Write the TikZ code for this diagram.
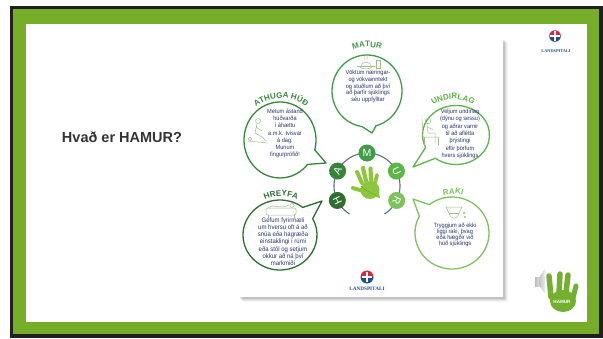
\documentclass[tikz,border=0pt]{standalone}
\usepackage{fontspec}
\setmainfont{Liberation Sans}
\newfontfamily\postfont[FakeStretch=0.92]{Liberation Sans}
\newfontfamily\logofont{Liberation Serif}
\usetikzlibrary{decorations.text,calc}

\definecolor{framegreen}{HTML}{76AE2A}
\definecolor{framedark}{HTML}{231F20}
\definecolor{titlegray}{HTML}{333333}
\definecolor{inkblue}{HTML}{27356B}
\definecolor{ringblue}{HTML}{5C6C8C}
\definecolor{gM}{HTML}{3F9C47}
\definecolor{gA}{HTML}{36853A}
\definecolor{gU}{HTML}{5DB548}
\definecolor{gH}{HTML}{2E6E30}
\definecolor{gR}{HTML}{7DC35C}
\definecolor{handgreen}{HTML}{8CC63F}
\definecolor{handdark}{HTML}{6FA832}
\definecolor{badgegreen}{HTML}{74B030}
\definecolor{iconline}{HTML}{9DBB8C}
\definecolor{lsred}{HTML}{D7263D}
\definecolor{lsblue}{HTML}{1D4F91}

% speech bubble: colour, centre x, centre y, x radius, y radius,
% tail start angle, tail end angle, tail tip
\newcommand\speechbubble[8]{%
  \draw[bubbleline, draw=#1] (#2,#3) ++(#7:#4 and #5)
    arc[start angle=#7, end angle={#6+360}, x radius=#4, y radius=#5]
    -- (#8) -- cycle;}

% arched heading above a bubble: colour, centre, radius, start, end, text
\newcommand\archead[6]{%
  \path[decorate, decoration={text along path, text align=center,
    text={|\fontsize{8}{8}\selectfont\bfseries\color{#1}|#6}}]
    (#2) ++(#4:#3) arc[start angle=#4, end angle=#5, radius=#3];}

% hospital emblem: centre x, centre y, radius
\newcommand\lshemblem[3]{%
  \fill[lsred] (#1,#2) ++(0:#3) arc[start angle=0, end angle=180, radius=#3] -- cycle;
  \fill[lsblue] (#1,#2) ++(180:#3) arc[start angle=180, end angle=360, radius=#3] -- cycle;
  \fill[white] ({#1-0.22*#3},{#2-0.78*#3}) rectangle ({#1+0.22*#3},{#2+0.78*#3});
  \fill[white] ({#1-0.78*#3},{#2-0.22*#3}) rectangle ({#1+0.78*#3},{#2+0.22*#3});}

\begin{document}
\begin{tikzpicture}[x=1pt, y=1pt, line join=round,
  bubbleline/.style={line width=1.3pt, fill=white},
  bodytext/.style={font=\postfont\fontsize{6.1}{7.2}\selectfont, text=inkblue,
    align=center, inner sep=0pt},
  lettercircle/.style={circle, minimum size=17pt, inner sep=0pt, text=white,
    font=\fontsize{10.5}{10.5}\selectfont},
  icon/.style={draw=iconline, line width=0.5pt, line cap=round},
  finger/.style={line cap=round, draw=handgreen},
]
\useasboundingbox (0,0) rectangle (603,-338);
\fill[white] (0,0) rectangle (603,-338);

% slide frame
\fill[framedark] (10,-6) rectangle (603,-338);
\fill[framegreen] (13,-9) rectangle (599,-334);
\fill[white] (26,-24) rectangle (587,-322);

% slide heading
\node[font=\fontsize{14.5}{16}\selectfont\bfseries, text=titlegray, inner sep=0pt]
  (heading) at (122,-137) {Hvað er HAMUR?};

% top right emblem
\lshemblem{555}{-36}{5.8}
\node[font=\logofont\bfseries\fontsize{4.3}{5}\selectfont, text=lsblue, inner sep=0pt]
  (toplogo) at (556,-51) {LANDSPITALI};

% poster sheet with soft drop shadow
\foreach \s/\o in {5/0.04,4/0.05,3/0.07,2/0.09}
  \fill[black, opacity=\o] ({238+\s},{-38-\s}) rectangle ({503+\s},{-297-\s});
\fill[white] (238,-38) rectangle (503,-297);

% speech bubbles
\speechbubble{gM}{367}{-91}{35}{36}{262}{285}{372,-133}
\speechbubble{gA}{280}{-140}{36}{38}{-40}{-15}{326,-163}
\speechbubble{gU}{456}{-135}{33.5}{29.5}{205}{232}{413,-167}
\speechbubble{gH}{280}{-235}{37}{35}{28}{52}{322,-201}
\speechbubble{gR}{452}{-233}{37}{36}{128}{152}{413,-199}

% headings along arcs
\archead{gM}{367,-91}{44}{125}{55}{MATUR}
\archead{gA}{281,-140}{42}{150}{30}{ATHUGA HÚÐ}
\archead{gU}{453,-135}{36}{145}{35}{UNDIRLAG}
\archead{gH}{281,-235}{39}{125}{55}{HREYFA}
\archead{gR}{453,-233}{39}{115}{65}{RAKI}

% bubble texts
\node[bodytext, font=\postfont\fontsize{6.1}{6.75}\selectfont] (mtxt) at (368,-86.5)
  {Vöktum næringar-\\og vökvainntekt\\og stuðlum að því\\að þarfir sjúklings\\séu uppfylltar};
\node[bodytext] (atxt) at (285,-133.5)
  {Metum ástand\\húðvarða\\í áhættu\\a.m.k. tvisvar\\á dag.\\Munum\\fingurprófið!};
\node[bodytext, font=\postfont\fontsize{6.1}{7.3}\selectfont] (utxt) at (460,-134)
  {Veljum undirlag\\(dýnu og sessu)\\og aðrar varnir\\til að aflétta\\þrýstingi\\eftir þörfum\\hvers sjúklings};
\node[bodytext, font=\postfont\fontsize{6.5}{7.2}\selectfont] (htxt) at (283,-241.5)
  {Gefum fyrirmæli\\um hversu oft á að\\snúa eða hagræða\\einstaklingi í rúmi\\eða stól og setjum\\okkur að ná því\\markmiði};
\node[bodytext, font=\postfont\fontsize{6.1}{5.9}\selectfont] (rtxt) at (455,-235)
  {Tryggjum að ekki\\liggi raki, þvag\\eða hægðir við\\húð sjúklings};

% line icons inside the bubbles
% meal tray with a glass
\draw[icon] (357,-66) -- (375,-66);
\draw[icon] (359,-66) .. controls (361,-70) and (371,-70) .. (373,-66);
\draw[icon] (361,-66) .. controls (361,-61) and (371,-61) .. (371,-66);
\draw[icon] (364,-56) .. controls (365,-57.5) and (363,-58.5) .. (364,-60);
\draw[icon] (367,-56) .. controls (368,-57.5) and (366,-58.5) .. (367,-60);
\draw[icon] (376,-60) rectangle (380,-68);
% carer checking skin
\draw[icon] (258,-121) circle[radius=2.5];
\draw[icon] (257,-124) -- (255,-133) -- (262,-137) -- (266,-141);
\draw[icon] (256,-127) -- (262,-131);
\draw[icon] (248,-141) -- (268,-143);
\draw[icon] (250,-139) circle[radius=1.8];
% person seated
\draw[icon] (428,-121) circle[radius=2.8];
\draw[icon] (427,-124) -- (428,-133) -- (435,-133) -- (435,-143);
\draw[icon] (428,-127) -- (433,-130);
\draw[icon] (422,-119) -- (423,-137) -- (439,-137);
\draw[icon] (424,-137) -- (424,-145);
\draw[icon] (438,-137) -- (438,-145);
% bed with resting person
\draw[icon, rounded corners=2] (266,-208) rectangle (296,-215);
\draw[icon] (292,-205.5) circle[radius=2];
\draw[icon] (268,-208) .. controls (274,-203) and (280,-210) .. (289,-205);
\draw[icon] (268,-215) -- (268,-218);
\draw[icon] (294,-215) -- (294,-218);
% diaper
\draw[icon] (446,-207) -- (462,-207) -- (459,-213) .. controls (457,-220) and (451,-220) .. (449,-213) -- cycle;
\draw[icon] (449,-213) -- (459,-213);
\draw[icon] (464,-213) circle[radius=0.9];
\draw[icon] (465,-217) circle[radius=0.7];

% HAMUR ring
\draw[ringblue, line width=1.1pt] (367,-186) ++(-58:33) arc[start angle=-58, end angle=238, radius=33];
\node[lettercircle, fill=gM] (cM) at (367,-153) {M};
\node[lettercircle, fill=gA, rotate=63] (cA) at ($(367,-186)+(153:33)$) {A};
\node[lettercircle, fill=gU, rotate=-63] (cU) at ($(367,-186)+(27:33)$) {U};
\node[lettercircle, fill=gH, rotate=116] (cH) at ($(367,-186)+(206:33)$) {H};
\node[lettercircle, fill=gR, rotate=-116] (cR) at ($(367,-186)+(334:33)$) {R};

% open hand
\fill[handgreen] (370,-190) ellipse[x radius=9.5, y radius=9];
\fill[handgreen] (372,-196) -- (380,-198) -- (378,-190) -- cycle;
\draw[finger, line width=4pt] (362,-183) -- (357,-172);
\draw[finger, line width=4.2pt] (366,-181) -- (363,-168);
\draw[finger, line width=4.2pt] (371,-181) -- (370.5,-168.5);
\draw[finger, line width=3.8pt] (375,-183) -- (377,-175);
\draw[finger, line width=4pt] (363,-191) -- (353,-188);
\draw[handdark, line width=0.6pt, line cap=round] (361,-186) .. controls (365,-190) and (370,-193) .. (376,-195);

% emblem at the foot of the poster
\lshemblem{367}{-277}{6.5}
\node[font=\logofont\bfseries\fontsize{5.2}{6}\selectfont, text=lsblue, inner sep=0pt]
  (posterlogo) at (367,-289) {LANDSPITALI};

% speaker and HAMUR badge, bottom right
\fill[badgegreen] (563,-301) ellipse[x radius=13, y radius=11];
\draw[badgegreen, line width=5.5pt, line cap=round] (551,-297) -- (549,-276);
\draw[badgegreen, line width=5.5pt, line cap=round] (559,-293) -- (560,-274);
\draw[badgegreen, line width=5.5pt, line cap=round] (566,-293) -- (568,-275);
\draw[badgegreen, line width=5pt, line cap=round] (573,-298) -- (576,-286);
\node[font=\fontsize{4.6}{5}\selectfont\bfseries, text=white, inner sep=0pt]
  (badge) at (562,-302) {HAMUR};
\shade[left color=gray!55, right color=gray!20] (535,-277) rectangle (539.5,-286);
\shade[left color=gray!45, right color=gray!15] (539.5,-277) -- (545,-268.5) -- (545,-293.5) -- (539.5,-286) -- cycle;
\end{tikzpicture}
\end{document}
